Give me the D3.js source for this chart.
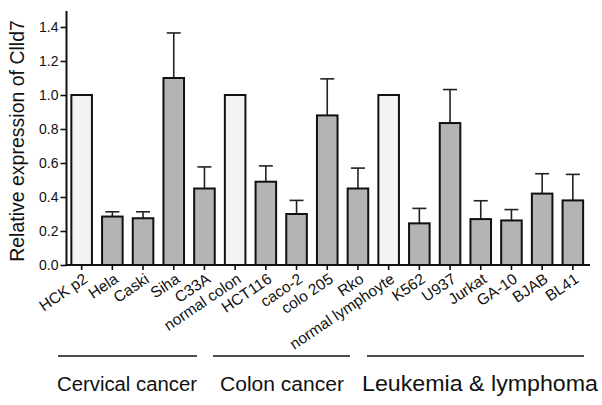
<!DOCTYPE html>
<html>
<head>
<meta charset="utf-8">
<script src="https://cdn.jsdelivr.net/npm/d3@7"></script>
<style>
  html, body { margin: 0; padding: 0; background: #fff; }
  svg { display: block; }
  text { font-family: "Liberation Sans", Arial, Helvetica, sans-serif; fill: #111; }
</style>
</head>
<body>
<svg id="chart" width="602" height="405"></svg>
<script>
const categories = ["HCK p2", "Hela", "Caski", "Siha", "C33A", "normal colon", "HCT116", "caco-2", "colo 205", "Rko", "normal lymphoyte", "K562", "U937", "Jurkat", "GA-10", "BJAB", "BL41"];
const values = [1.0, 0.285, 0.275, 1.10, 0.45, 1.0, 0.49, 0.30, 0.88, 0.45, 1.0, 0.245, 0.835, 0.27, 0.262, 0.42, 0.38];
const errors = [0, 0.028, 0.038, 0.265, 0.127, 0, 0.093, 0.08, 0.215, 0.12, 0, 0.088, 0.197, 0.108, 0.064, 0.117, 0.153];
const isControl = [true, false, false, false, false, true, false, false, false, false, true, false, false, false, false, false, false];
const yTicks = [0.0, 0.2, 0.4, 0.6, 0.8, 1.0, 1.2, 1.4];
const groups = [
  { name: "Cervical cancer", from: "HCK p2", to: "C33A" },
  { name: "Colon cancer", from: "normal colon", to: "Rko" },
  { name: "Leukemia & lymphoma", from: "normal lymphoyte", to: "BL41" }
];
const yTitle = "Relative expression of Clld7";

const svg = d3.select("#chart");
const axisX = 66.5, axisBottom = 265, axisTop = 11, axisRight = 590;

const x = d3.scaleBand().domain(categories).range([66.3, 588.2]).paddingInner(0.33).paddingOuter(0.165);
const y = d3.scaleLinear().domain([0, 1.5]).range([axisBottom, 10]);

const g = svg.append("g");
const data = categories.map((c, i) => ({ c, v: values[i], e: errors[i], ctrl: isControl[i] }));

data.filter(d => d.e > 0).forEach(d => {
  const cx = x(d.c) + x.bandwidth() / 2;
  g.append("line").attr("x1", cx).attr("x2", cx).attr("y1", y(d.v)).attr("y2", y(d.v + d.e))
    .attr("stroke", "#222").attr("stroke-width", 1.6);
  g.append("line").attr("x1", cx - 7).attr("x2", cx + 7).attr("y1", y(d.v + d.e)).attr("y2", y(d.v + d.e))
    .attr("stroke", "#222").attr("stroke-width", 1.6);
});

g.selectAll("rect.bar").data(data).enter().append("rect")
  .attr("class", "bar")
  .attr("x", d => x(d.c))
  .attr("width", x.bandwidth())
  .attr("y", d => y(d.v))
  .attr("height", d => axisBottom - y(d.v))
  .attr("fill", d => d.ctrl ? "#f3f3f3" : "#b4b4b4")
  .attr("stroke", "#111")
  .attr("stroke-width", 2);

// y axis
const yAxis = d3.axisLeft(y).tickValues(yTicks).tickFormat(d3.format(".1f")).tickSize(6).tickPadding(2).tickSizeOuter(0);
const ya = svg.append("g").attr("transform", `translate(${axisX},0)`).call(yAxis);
ya.select(".domain").remove();
ya.selectAll(".tick line").attr("stroke", "#111").attr("stroke-width", 1.6);
ya.selectAll(".tick text").attr("font-size", 14).attr("fill", "#333").attr("font-family", "Liberation Sans, Arial, sans-serif");
svg.append("line").attr("x1", axisX).attr("x2", axisX).attr("y1", axisTop).attr("y2", axisBottom + 1)
  .attr("stroke", "#111").attr("stroke-width", 2);

// x axis
const xAxis = d3.axisBottom(x).tickSize(5).tickSizeOuter(0).tickPadding(3);
const xa = svg.append("g").attr("transform", `translate(0,${axisBottom})`).call(xAxis);
xa.select(".domain").remove();
xa.selectAll(".tick line").attr("stroke", "#111").attr("stroke-width", 1.6);
xa.selectAll(".tick text")
  .attr("font-size", 15.5)
  .attr("fill", "#222")
  .attr("font-family", "Liberation Sans, Arial, sans-serif")
  .attr("text-anchor", "end")
  .attr("x", 0).attr("y", 0)
  .attr("dy", "0.35em")
  .attr("transform", "translate(4,12) rotate(-34)");
svg.append("line").attr("x1", axisX - 1).attr("x2", axisRight).attr("y1", axisBottom).attr("y2", axisBottom)
  .attr("stroke", "#111").attr("stroke-width", 2);

// y title
svg.append("text")
  .attr("transform", `translate(24,141) rotate(-90)`)
  .attr("text-anchor", "middle")
  .attr("font-size", 19.5)
  .attr("fill", "#111")
  .text(yTitle);

// group brackets
const groupLineY = 356, groupTextY = 391;
const groupSpans = [[58, 197], [213, 350], [367, 584]];
const groupTextSpans = [[57, 197], [220, 344], [362, 598]];
const groupFont = [20, 20, 22.5];
groups.forEach((gr, i) => {
  svg.append("line").attr("x1", groupSpans[i][0]).attr("x2", groupSpans[i][1])
    .attr("y1", groupLineY).attr("y2", groupLineY).attr("stroke", "#111").attr("stroke-width", 1.6);
  svg.append("text").attr("x", groupTextSpans[i][0]).attr("y", groupTextY)
    .attr("font-size", groupFont[i])
    .attr("textLength", groupTextSpans[i][1] - groupTextSpans[i][0])
    .attr("lengthAdjust", "spacingAndGlyphs")
    .attr("fill", "#111")
    .text(gr.name);
});
</script>
</body>
</html>
